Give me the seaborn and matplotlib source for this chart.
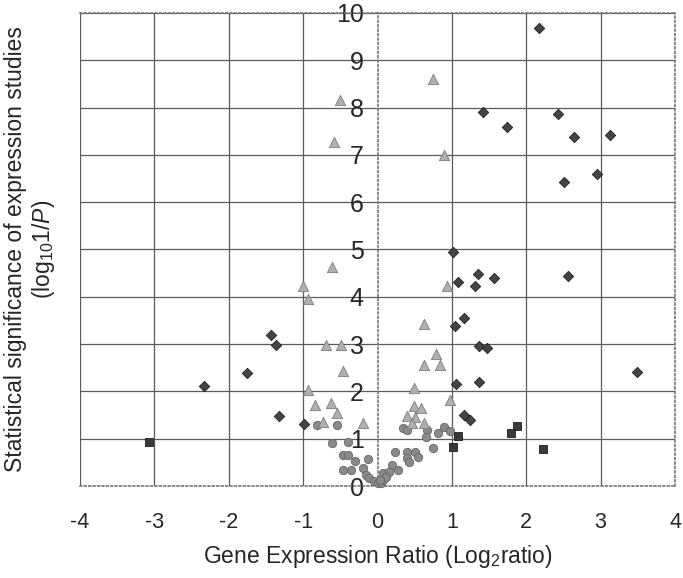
import numpy as np
import pandas as pd
import matplotlib
matplotlib.use("Agg")
import matplotlib.pyplot as plt
import seaborn as sns

# values (x = log2 ratio, y = log10 1/P)
diamond_x = [2.17, 1.42, 1.74, 2.43, 2.64, 3.13, 2.95, 2.51, 1.01, 1.35, 1.08, 1.31,
             1.56, 2.56, 1.16, 1.04, 1.36, 1.47, 3.49, 1.06, 1.36, 1.16, 1.24,
             -1.43, -1.37, -1.75, -2.33, -1.32, -0.99]
diamond_y = [9.68, 7.90, 7.60, 7.86, 7.38, 7.42, 6.60, 6.43, 4.95, 4.48, 4.31, 4.23,
             4.40, 4.44, 3.55, 3.38, 2.96, 2.92, 2.41, 2.16, 2.20, 1.50, 1.40,
             3.19, 2.98, 2.39, 2.11, 1.48, 1.31]

square_x = [-3.07, 1.08, 1.02, 1.87, 1.79, 2.22]
square_y = [0.93, 1.06, 0.82, 1.27, 1.12, 0.78]

triangle_x = [-0.50, -0.59, 0.74, 0.90, -0.61, -1.00, -0.94, -0.69, -0.49, -0.46,
              -0.94, -0.84, -0.63, -0.54, -0.73, -0.19, 0.93, 0.62, 0.78, 0.63,
              0.84, 0.49, 0.97, 0.49, 0.58, 0.40, 0.51, 0.47, 0.63]
triangle_y = [8.16, 7.27, 8.60, 7.00, 4.63, 4.23, 3.95, 2.98, 2.98, 2.43,
              2.03, 1.71, 1.75, 1.54, 1.35, 1.33, 4.23, 3.42, 2.80, 2.56,
              2.56, 2.07, 1.82, 1.69, 1.65, 1.48, 1.46, 1.33, 1.33]

circle_x = [-0.81, -0.54, -0.61, -0.40, -0.46, -0.40, -0.30, -0.13, -0.47, -0.36,
            -0.19, -0.16, -0.12, -0.05, 0.00, 0.05, 0.08, 0.07, 0.24, 0.40,
            0.51, 0.40, 0.54, 0.42, 0.20, 0.28, 0.15, 0.11, 0.04, 0.74,
            0.34, 0.39, 0.67, 0.65, 0.82, 0.89, 0.98]
circle_y = [1.29, 1.29, 0.91, 0.93, 0.66, 0.66, 0.53, 0.57, 0.34, 0.34,
            0.38, 0.23, 0.17, 0.11, 0.06, 0.06, 0.13, 0.27, 0.72, 0.72,
            0.72, 0.59, 0.61, 0.51, 0.44, 0.34, 0.30, 0.19, 0.13, 0.80,
            1.22, 1.18, 1.18, 1.04, 1.12, 1.25, 1.16]

x_ticks = [-4, -3, -2, -1, 0, 1, 2, 3, 4]
y_ticks = [0, 1, 2, 3, 4, 5, 6, 7, 8, 9, 10]

sns.set_style("white")
plt.rcParams["font.family"] = ["Liberation Sans", "DejaVu Sans"]
plt.rcParams["mathtext.fontset"] = "custom"
plt.rcParams["mathtext.rm"] = "Liberation Sans"
plt.rcParams["mathtext.it"] = "Liberation Sans:italic"

frames = []
for name, xs, ys in [("diamond", diamond_x, diamond_y), ("square", square_x, square_y),
                     ("triangle", triangle_x, triangle_y), ("circle", circle_x, circle_y)]:
    frames.append(pd.DataFrame({"ratio": xs, "sig": ys, "group": name}))
data = pd.concat(frames, ignore_index=True)

styles = {
    "circle": dict(marker="o", s=36, color="#8a8a8a", edgecolor="#666666"),
    "triangle": dict(marker="^", s=55, color="#b0b0b0", edgecolor="#7c7c7c"),
    "square": dict(marker="s", s=38, color="#3a3a3a", edgecolor="#1e1e1e"),
    "diamond": dict(marker="D", s=28, color="#444444", edgecolor="#1e1e1e"),
}

fig = plt.figure(figsize=(6.83, 5.78), dpi=100)
ax = fig.add_axes([80 / 683, 92 / 578, 595 / 683, 473 / 578])

for name, st in styles.items():
    sub = data[data["group"] == name]
    sns.scatterplot(data=sub, x="ratio", y="sig", ax=ax, marker=st["marker"], s=st["s"],
                    color=st["color"], edgecolor=st["edgecolor"], linewidth=0.6,
                    legend=False, zorder=3, clip_on=False)

# move the y axis to x=0 first (this resets the tick settings)
for side in ["top", "right", "bottom", "left"]:
    ax.spines[side].set_visible(True)
    ax.spines[side].set_linestyle(":")
    ax.spines[side].set_color("#777777")
    ax.spines[side].set_linewidth(1.2)
ax.spines["left"].set_position(("data", 0))

ax.set_xlim(-4, 4)
ax.set_ylim(0, 10)
ax.set_xticks(x_ticks)
ax.set_yticks(y_ticks)
ax.set_xticklabels([str(t) for t in x_ticks])
ax.set_yticklabels([str(t) for t in y_ticks])

# grid: solid lines, the one at x=0 is replaced by the dotted y axis
ax.grid(True, color="#5a5a5a", linewidth=0.9, linestyle="-")
ax.set_axisbelow(True)
ax.get_xgridlines()[4].set_visible(False)

ax.tick_params(axis="y", length=0, pad=10, labelsize=18)
ax.tick_params(axis="x", length=0, pad=18.5, labelsize=15.5)

ax.set_xlabel("Gene Expression Ratio (Log$_2$ratio)", fontsize=16.5)
ax.xaxis.set_label_coords(0.5, -0.12)
ax.set_ylabel("Statistical significance of expression studies\n(log$_{10}$1/$P$)",
              fontsize=16.5, linespacing=1.15)
ax.yaxis.label.set_verticalalignment("center")
ax.yaxis.set_label_coords(-0.084, 0.5)

fig.savefig("out.png", dpi=100)
